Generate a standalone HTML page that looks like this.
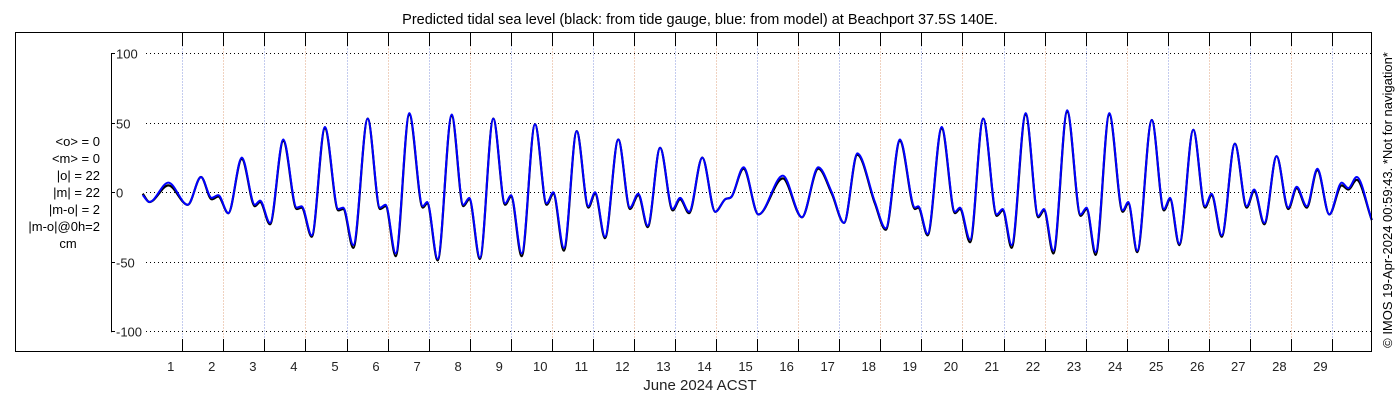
<!DOCTYPE html>
<html><head><meta charset="utf-8"><style>
html,body{margin:0;padding:0;background:#fff;}
svg{display:block;font-family:"Liberation Sans","DejaVu Sans",sans-serif;}
</style></head><body>
<svg id="chart" width="1400" height="400" viewBox="0 0 1400 400" xmlns="http://www.w3.org/2000/svg">
<rect x="0" y="0" width="1400" height="400" fill="#fff"/>
<text x="700" y="24" text-anchor="middle" font-size="14.5" fill="#000">Predicted tidal sea level (black: from tide gauge, blue: from model) at Beachport 37.5S 140E.</text>
<g id="grid"></g>
<g id="axes"></g>
<g id="series"></g>
<rect x="15.5" y="32.5" width="1356" height="319" fill="none" stroke="#000" stroke-width="1"/>
<g font-size="13" fill="#000" text-anchor="end">
<text x="100" y="146">&lt;o&gt; = 0</text>
<text x="100" y="163">&lt;m&gt; = 0</text>
<text x="100" y="180">|o| = 22</text>
<text x="100" y="197">|m| = 22</text>
<text x="100" y="214">|m-o| = 2</text>
<text x="100" y="231">|m-o|@0h=2</text>
<text x="68" y="248" text-anchor="middle">cm</text>
</g>
<text x="700" y="390" text-anchor="middle" font-size="15" fill="#222">June 2024 ACST</text>
<text transform="translate(1392,200) rotate(-90)" text-anchor="middle" font-size="13" fill="#000">© IMOS 19-Apr-2024 00:59:43. *Not for navigation*</text>
</svg>
<script>
// hours since plot origin
const times = [1.7,5.6,16.7,28.0,35.8,42.0,45.9,51.7,59.6,67.3,70.3,76.1,83.9,91.7,94.6,100.5,108.2,116.0,118.9,124.8,133.2,140.4,143.7,149.6,157.5,165.4,168.0,174.1,182.3,189.1,192.6,198.8,206.6,213.5,217.0,223.2,231.0,237.8,241.7,247.9,255.4,262.2,266.1,271.9,279.7,286.5,291.4,296.9,304.1,311.5,315.8,321.1,328.8,336.3,342.1,346.0,352.9,361.6,375.9,387.0,396.6,404.5,411.6,419.4,429.7,436.0,444.3,453.1,455.0,460.5,468.7,476.5,479.4,485.3,493.0,500.9,504.4,509.6,517.8,525.2,528.5,534.0,542.1,549.9,553.4,558.7,566.7,574.5,577.8,583.0,591.5,598.6,602.2,607.6,615.8,622.6,626.5,632.4,640.1,647.0,651.4,657.3,664.5,671.3,676.2,682.1,688.3,695.3,702.5,706.4,711.3,720.1];
const modelValues = [-2,-7,7,-9,11,-4,-2,-15,25,-9,-6,-22,38,-11,-10,-31,47,-12,-11,-38,53,-11,-9,-44,57,-10,-7,-48,56,-9,-4,-47,53,-8,-2,-44,49,-8,0,-40,44,-10,0,-32,38,-11,-1,-24,32,-12,-4,-14,25,-14,-5,-3,18,-16,12,-18,18,0,-22,28,-7,-26,38,-11,-10,-30,47,-14,-11,-34,53,-16,-12,-38,57,-17,-12,-42,59,-16,-11,-43,57,-13,-7,-42,52,-12,-4,-37,45,-10,-1,-31,35,-10,2,-22,26,-11,4,-10,17,-16,7,3,11,-20];
const obsValues = [-1,-7,5,-9,11,-5,-3,-15,24,-10,-7,-23,37,-12,-11,-32,46,-13,-12,-40,53,-12,-10,-46,56,-11,-8,-49,55,-10,-5,-48,53,-9,-3,-46,49,-9,-1,-42,44,-11,-1,-33,38,-12,-2,-25,32,-13,-5,-15,25,-14,-5,-3,17,-16,10,-18,17,-1,-22,27,-8,-27,37,-12,-11,-31,46,-15,-12,-36,53,-17,-13,-40,56,-18,-13,-44,58,-17,-12,-45,56,-14,-8,-43,52,-13,-5,-38,45,-11,-2,-32,35,-11,1,-23,26,-12,3,-11,16,-16,5,2,9,-20];
const yTicks = [100,50,0,-50,-100];
const dayLabels = [1,2,3,4,5,6,7,8,9,10,11,12,13,14,15,16,17,18,19,20,21,22,23,24,25,26,27,28,29];

const NS='http://www.w3.org/2000/svg';
const X0=139.8, PXH=41.06/24, Y0=192.3, PXC=1.39, TICK0H=24.85;
function xs(h){return X0+h*PXH;}
function ys(v){return Y0-v*PXC;}
function mk(tag,attrs,parent){const e=document.createElementNS(NS,tag);for(const k in attrs)e.setAttribute(k,attrs[k]);parent.appendChild(e);return e;}
const grid=document.getElementById('grid'), axes=document.getElementById('axes'), series=document.getElementById('series');

dayLabels.forEach((d,i)=>{
  const x=Math.round(xs(TICK0H+24*(d-1)))+0.5;
  const g=mk('line',{x1:x,x2:x,y1:33,y2:351,stroke:(i%2?'#f0d2c0':'#c4ccef'),'stroke-width':1,'stroke-dasharray':'2,1'},grid);
  
  
  const t1=mk('line',{x1:x,x2:x,y1:33,y2:46,stroke:'#000','stroke-width':1},axes);
  
  
  const t2=mk('line',{x1:x,x2:x,y1:339,y2:351,stroke:'#000','stroke-width':1},axes);
  
  
  const lab=mk('text',{x:xs(TICK0H+24*(d-1))-11.6,y:371,'text-anchor':'middle','font-size':13,fill:'#222'},axes);
  lab.textContent=d;
  
  
});
const yl=mk('line',{x1:111.5,x2:111.5,y1:ys(100),y2:ys(-100)+1,stroke:'#000','stroke-width':1},axes);


yTicks.forEach(v=>{
  const y=Math.round(ys(v))+0.5;
  const h=mk('line',{x1:146,x2:1371,y1:y,y2:y,stroke:'#000','stroke-width':1,'stroke-dasharray':'1,3'},grid);
  
  
  const tk=mk('line',{x1:111,x2:115,y1:y,y2:y,stroke:'#000','stroke-width':1},axes);
  
  
  const lab=mk('text',{x:116,y:y+5,'font-size':13,fill:'#222'},axes);
  lab.textContent=v;
  
  
});

function monoPath(tx,vy){
  const n=tx.length, xsA=tx.map(xs), ysA=vy.map(ys), m=[], d=[];
  for(let i=0;i<n-1;i++)d.push((ysA[i+1]-ysA[i])/(xsA[i+1]-xsA[i]));
  for(let i=0;i<n;i++){
    if(i===0)m.push(d[0]);else if(i===n-1)m.push(d[n-2]);
    else m.push(d[i-1]*d[i]<=0?0:(d[i-1]+d[i])/2);
  }
  let p='M'+xsA[0].toFixed(1)+','+ysA[0].toFixed(1);
  for(let i=0;i<n-1;i++){
    const h=xsA[i+1]-xsA[i];
    p+=' C'+(xsA[i]+h/3).toFixed(1)+','+(ysA[i]+m[i]*h/3).toFixed(1)+' '+(xsA[i+1]-h/3).toFixed(1)+','+(ysA[i+1]-m[i+1]*h/3).toFixed(1)+' '+xsA[i+1].toFixed(1)+','+ysA[i+1].toFixed(1);
  }
  return p;
}
const obs=mk('path',{d:monoPath(times,obsValues),fill:'none',stroke:'#000','stroke-width':2.2,'stroke-linejoin':'round'},series);


const mod=mk('path',{d:monoPath(times,modelValues),fill:'none',stroke:'#0000ff','stroke-width':2,'stroke-linejoin':'round'},series);


</script>
</body></html>
